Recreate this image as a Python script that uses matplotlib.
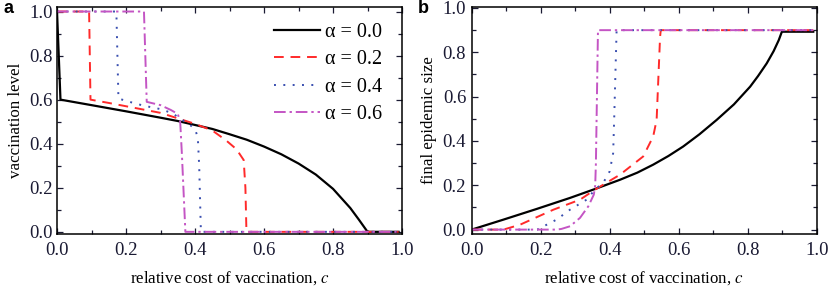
import matplotlib
matplotlib.use('Agg')
import matplotlib.pyplot as plt
from matplotlib.ticker import MultipleLocator

plt.rcParams.update({'font.family': ['Liberation Serif', 'DejaVu Serif'], 'font.size': 12,
                     'mathtext.fontset': 'stix'})

# ---------------------------------------------------------------------------
# data
# ---------------------------------------------------------------------------
alphas = ['0.0', '0.2', '0.4', '0.6']

# panel a: vaccination level
a0_c = [0, 0.01, 0.1, 0.2, 0.3, 0.35, 0.4, 0.45, 0.5, 0.55, 0.6, 0.65, 0.7, 0.75, 0.8, 0.85, 0.875, 0.9, 0.99]
a0_v = [1.0, 0.60, 0.575, 0.547, 0.518, 0.503, 0.485, 0.467, 0.443, 0.418, 0.387, 0.352, 0.31, 0.26, 0.195, 0.108, 0.055, 0.0, 0.0]

a2_c = [0, 0.093, 0.097, 0.15, 0.2, 0.25, 0.3, 0.35, 0.4, 0.45, 0.49, 0.52, 0.541, 0.546, 0.549, 0.99]
a2_v = [1.0, 1.0, 0.60, 0.585, 0.57, 0.555, 0.54, 0.515, 0.49, 0.46, 0.415, 0.375, 0.326, 0.2, 0.0, 0.0]

a4_c = [0, 0.172, 0.178, 0.21, 0.25, 0.3, 0.335, 0.36, 0.38, 0.4, 0.408, 0.412, 0.417, 0.99]
a4_v = [1.0, 1.0, 0.605, 0.59, 0.573, 0.557, 0.538, 0.51, 0.493, 0.465, 0.43, 0.3, 0.0, 0.0]

a6_c = [0, 0.252, 0.26, 0.3, 0.33, 0.35, 0.357, 0.362, 0.372, 0.99]
a6_v = [1.0, 1.0, 0.59, 0.575, 0.553, 0.535, 0.5, 0.35, 0.0, 0.0]

# panel b: final epidemic size
b0_c = [0, 0.092, 0.188, 0.285, 0.357, 0.43, 0.48, 0.526, 0.57, 0.613, 0.66, 0.71, 0.76, 0.807,
        0.83, 0.855, 0.875, 0.89, 0.899, 0.99]
b0_v = [0, 0.045, 0.093, 0.143, 0.183, 0.225, 0.257, 0.293, 0.332, 0.375, 0.43, 0.495, 0.565, 0.645,
        0.693, 0.75, 0.805, 0.855, 0.893, 0.893]

b2_c = [0, 0.092, 0.14, 0.237, 0.314, 0.357, 0.43, 0.497, 0.526, 0.536, 0.546, 0.548, 0.99]
b2_v = [0, 0, 0.022, 0.09, 0.135, 0.18, 0.248, 0.33, 0.42, 0.495, 0.87, 0.9, 0.9]

b4_c = [0, 0.19, 0.246, 0.285, 0.333, 0.357, 0.382, 0.4, 0.41, 0.413, 0.42, 0.99]
b4_v = [0, 0, 0.045, 0.09, 0.135, 0.18, 0.213, 0.263, 0.345, 0.5, 0.9, 0.9]

b6_c = [0, 0.246, 0.26, 0.285, 0.314, 0.338, 0.354, 0.358, 0.36, 0.363, 0.366, 0.99]
b6_v = [0, 0, 0.003, 0.015, 0.053, 0.105, 0.158, 0.2, 0.3, 0.6, 0.9, 0.9]

styles = [
    dict(color='black', lw=1.6, ls='-'),
    dict(color='#ff2a2a', lw=1.4, ls=(0, (5, 3.5))),
    dict(color='#3a4fb0', lw=1.4, ls=(0, (1, 3.8))),
    dict(color='#c455c4', lw=1.4, ls=(0, (6, 2, 1.2, 2))),
]

fig = plt.figure(figsize=(8.3, 2.9), dpi=100)
ax_a = fig.add_axes([0.0687, 0.193, 0.4157, 0.784])
ax_b = fig.add_axes([0.5683, 0.193, 0.4157, 0.784])

for c, v, a, st in zip([a0_c, a2_c, a4_c, a6_c], [a0_v, a2_v, a4_v, a6_v], alphas, styles):
    ax_a.plot(c, v, label='\u03b1 = ' + a, **st)
for c, v, st in zip([b0_c, b2_c, b4_c, b6_c], [b0_v, b2_v, b4_v, b6_v], styles):
    ax_b.plot(c, v, **st)

for ax in (ax_a, ax_b):
    ax.set_xlim(0, 1.0)
    ax.xaxis.set_major_locator(MultipleLocator(0.2))
    ax.xaxis.set_minor_locator(MultipleLocator(0.1))
    ax.yaxis.set_major_locator(MultipleLocator(0.2))
    ax.yaxis.set_minor_locator(MultipleLocator(0.1))
    ax.tick_params(which='both', direction='in', top=True, right=True, labelsize=13.5, colors='#1a1a33')
    ax.tick_params(which='major', length=4, width=0.9)
    ax.tick_params(which='minor', length=3, width=0.9)
    ax.tick_params(axis='x', which='major', pad=6)
    for s in ax.spines.values():
        s.set_linewidth(1.1)
    ax.set_xlabel('relative cost of vaccination, $c$', fontsize=12.2, labelpad=7.5)

ax_a.set_ylim(-0.01, 1.022)
ax_b.set_ylim(-0.02, 1.006)
ax_a.tick_params(axis='y', which='major', pad=3)
ax_b.tick_params(axis='y', which='major', pad=4)
ax_a.set_ylabel('vaccination level', fontsize=12.2, labelpad=4)
ax_b.set_ylabel('final epidemic size', fontsize=12.2, labelpad=4)

ax_a.legend(loc='upper right', bbox_to_anchor=(0.942, 0.93), frameon=False, fontsize=14.5,
            handlelength=2.3, handletextpad=0.25, labelspacing=0.42, borderpad=0, borderaxespad=0)

fig.text(0.004, 0.955, 'a', fontsize=13, fontweight='bold', family='Liberation Sans')
fig.text(0.503, 0.955, 'b', fontsize=13, fontweight='bold', family='Liberation Sans')

fig.savefig('out.png', dpi=100)
